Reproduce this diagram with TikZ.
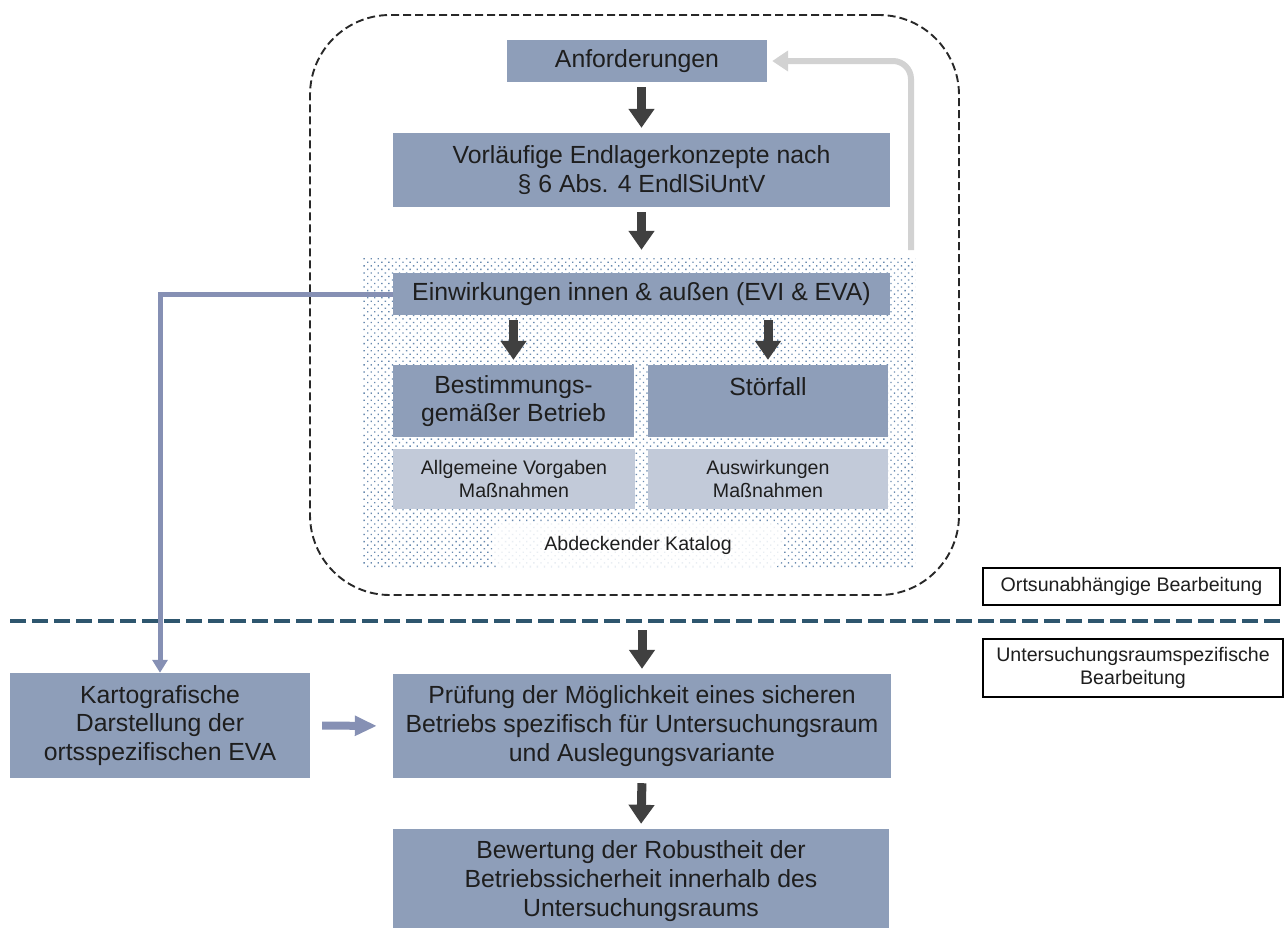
\documentclass[tikz,border=0pt]{standalone}
\usepackage{fontspec}
\setmainfont{Liberation Sans}
\usetikzlibrary{arrows.meta,patterns.meta,positioning}
\definecolor{boxblue}{RGB}{142,158,185}
\definecolor{paleblue}{RGB}{194,202,217}
\definecolor{arrowgray}{RGB}{64,64,64}
\definecolor{backgray}{RGB}{210,210,210}
\definecolor{linkblue}{RGB}{134,144,180}
\definecolor{sepblue}{RGB}{46,86,110}
\definecolor{dotblue}{RGB}{105,138,175}
\definecolor{framegray}{RGB}{40,40,40}
\definecolor{textgray}{RGB}{30,30,30}
\newcommand{\boxfont}{\fontsize{24.8}{28.7}\selectfont}
\newcommand{\notefont}{\fontsize{19.6}{23.3}\selectfont}

\begin{document}
\begin{tikzpicture}[
  x=1pt,
  y=-1pt,
  flow box/.style={
    fill=boxblue,
    inner sep=0pt,
    align=center,
    text=textgray,
    font=\boxfont
  },
  note box/.style={
    flow box,
    fill=paleblue,
    font=\notefont
  },
  side label/.style={
    draw=black,
    line width=1.2pt,
    fill=white,
    inner sep=0pt,
    align=center,
    text=textgray,
    font=\notefont
  },
  step arrow/.style={
    draw=arrowgray,
    line width=9pt,
    -{Triangle[length=19pt,width=25pt]},
    shorten <=5pt,
    shorten >=5pt
  },
  link arrow/.style={
    draw=linkblue,
    line width=5pt,
    line join=miter,
    -{Triangle[length=13pt,width=15pt]}
  },
  feed arrow/.style={
    draw=linkblue,
    line width=8pt,
    -{Triangle[length=22pt,width=19pt]},
    shorten <=12pt,
    shorten >=16pt
  },
  back arrow/.style={
    draw=backgray,
    line width=6pt,
    rounded corners=18pt,
    -{Triangle[length=16pt,width=20pt]},
    shorten >=5pt
  },
  frame/.style={
    draw=framegray,
    line width=1.9pt,
    dash pattern=on 8pt off 4pt,
    rounded corners=80pt,
    inner sep=0pt
  },
  separator/.style={
    draw=sepblue,
    line width=4pt,
    dash pattern=on 16pt off 6pt
  }
]

\useasboundingbox (0,0) rectangle (1285,927);

% Location-independent part: dashed frame and dotted catalogue area.
\node[frame, minimum width=649pt, minimum height=580pt] (frame) at (634.5,305) {};
\node[pattern={Dots[angle=45,distance=5pt,radius=0.95pt]}, pattern color=dotblue,
  inner sep=0pt, minimum width=553pt, minimum height=310pt] (catalog) at (638.5,412) {};
\node[fill=white, fill opacity=0.85, text opacity=1, rounded corners=10pt,
  minimum width=290pt, minimum height=44pt, font=\notefont, text=textgray]
  (katalog) at (638,545) {Abdeckender Katalog};

\node[flow box, minimum width=260pt, minimum height=42pt] (anf) at (637,61)
  {Anforderungen};
\node[flow box, minimum width=497pt, minimum height=74pt] (vorl) at (641.5,170)
  {Vorläufige Endlagerkonzepte nach\\§ 6 Abs. 4 EndlSiUntV};
\node[flow box, minimum width=497pt, minimum height=42pt] (einw) at (641.5,294)
  {Einwirkungen innen \& außen (EVI \& EVA)};
\node[flow box, minimum width=241pt, minimum height=72pt] (best) at (513.5,401)
  {Bestimmungs-\\gemäßer Betrieb};
\node[flow box, minimum width=240pt, minimum height=72pt] (stoer) at (768,401)
  {Störfall\\\mbox{}};
\node[note box, minimum width=242pt, minimum height=60pt] (allg) at (514,479)
  {Allgemeine Vorgaben\\Maßnahmen};
\node[note box, minimum width=240pt, minimum height=60pt] (ausw) at (768,479)
  {Auswirkungen\\Maßnahmen};

% Separator and its two labels.
\coordinate (sep-w) at (10,621);
\coordinate (sep-e) at (1285,621);
\draw[separator] (sep-w) -- (sep-e);
\node[side label, minimum width=297pt, minimum height=37pt] (ortsunabh) at (1131.5,586.5)
  {Ortsunabhängige Bearbeitung};
\node[side label, minimum width=300pt, minimum height=58pt] (urspez) at (1133,668)
  {Untersuchungsraumspezifische\\Bearbeitung};

% Location-specific part.
\node[flow box, minimum width=300pt, minimum height=105pt] (kart) at (160,725.5)
  {Kartografische\\Darstellung der\\ortsspezifischen EVA};
\node[flow box, minimum width=498pt, minimum height=104pt] (pruef) at (642,726)
  {Prüfung der Möglichkeit eines sicheren\\Betriebs spezifisch für Untersuchungsraum\\und Auslegungsvariante};
\node[flow box, minimum width=496pt, minimum height=104pt] (bew) at (641,881)
  {Bewertung der Robustheit der\\Betriebssicherheit innerhalb des\\Untersuchungsraums};

% Arrows.
\draw[step arrow] (anf.south -| vorl.north) -- (vorl.north);
\draw[step arrow, shorten >=7pt] (vorl.south) -- (vorl.south |- catalog.north);
\draw[step arrow] (einw.south -| best.north) -- (best.north);
\draw[step arrow] (einw.south -| stoer.north) -- (stoer.north);
\coordinate (pruef-in) at (642,625);
\draw[step arrow] (pruef-in) -- (pruef.north);
\draw[step arrow] (pruef.south) -- (bew.north);

\draw[link arrow] (einw.west) -| (kart.north);
\draw[feed arrow] (kart.east) -- (pruef.west);

\coordinate (back-start) at (911,250);
\draw[back arrow] (back-start) |- (anf.east);

\end{tikzpicture}
\end{document}
